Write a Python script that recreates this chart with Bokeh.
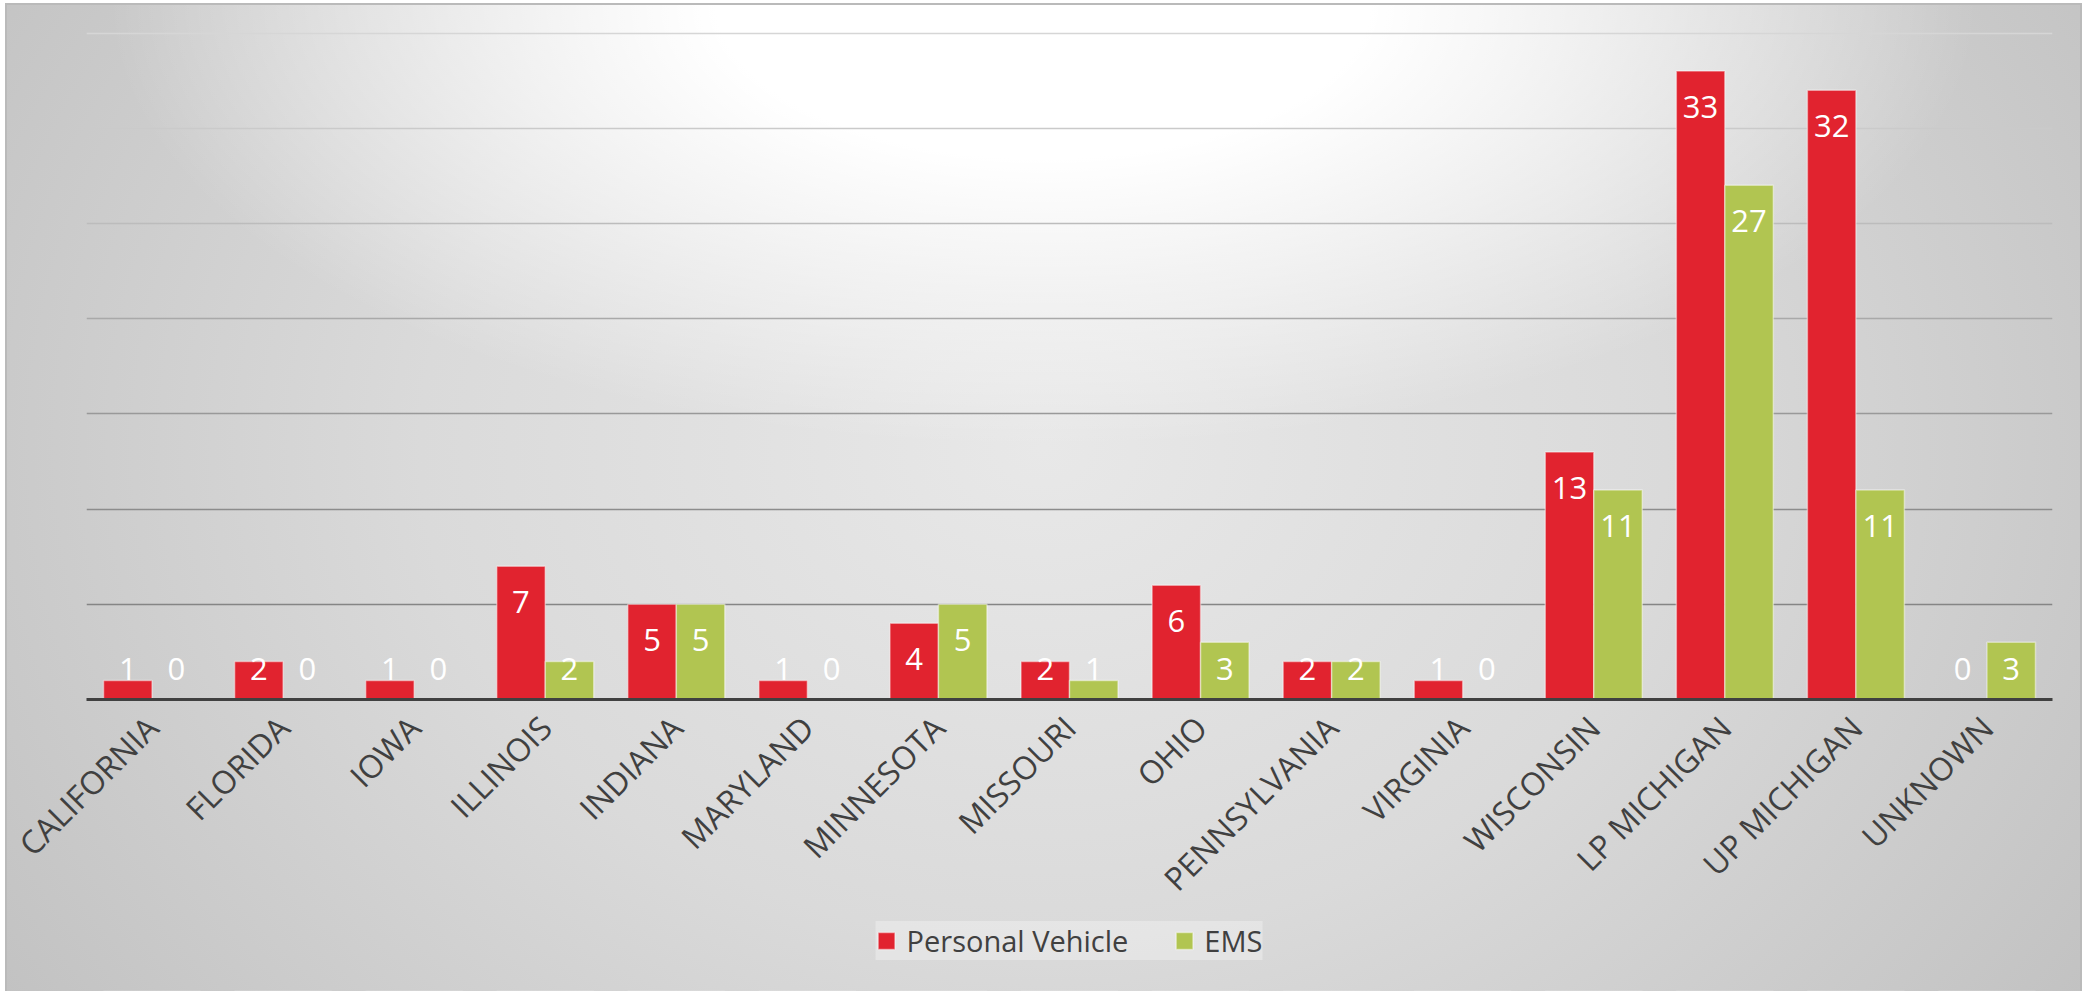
import math
from bokeh.plotting import figure
from bokeh.layouts import column
from bokeh.models import (ColumnDataSource, FactorRange, Range1d, LabelSet, Legend,
                          LegendItem, Grid, FixedTicker)
from bokeh.core.properties import value
from bokeh.transform import dodge
from bokeh.embed import file_html
from bokeh.resources import INLINE

categories = ["CALIFORNIA", "FLORIDA", "IOWA", "ILLINOIS", "INDIANA", "MARYLAND",
              "MINNESOTA", "MISSOURI", "OHIO", "PENNSYLVANIA", "VIRGINIA",
              "WISCONSIN", "LP MICHIGAN", "UP MICHIGAN", "UNKNOWN"]
personal_vehicle = [1, 2, 1, 7, 5, 1, 4, 2, 6, 2, 1, 13, 33, 32, 0]
ems = [0, 0, 0, 2, 5, 0, 5, 1, 3, 2, 0, 11, 27, 11, 3]
grid_values = [5, 10, 15, 20, 25, 30, 35]
grid_colors = ["#858585", "#8c8c8c", "#999999", "#a9a9a9", "#bcbcbc", "#cacaca", "#d6d6d6"]

RED = "#E1232F"
GREEN = "#B1C551"
FONT = "Open Sans"

src = ColumnDataSource(dict(
    cat=categories,
    pv=personal_vehicle,
    ems=ems,
    pv_txt=[str(v) for v in personal_vehicle],
    ems_txt=[str(v) for v in ems],
    pv_ly=[max(v, 3.5) for v in personal_vehicle],
    ems_ly=[max(v, 3.5) for v in ems],
))

p = figure(width=2077, height=918, x_range=FactorRange(*categories),
           y_range=Range1d(0, 35.5), output_backend="svg", toolbar_location=None,
           min_border_left=81, min_border_right=30, min_border_top=20,
           min_border_bottom=222)
p.background_fill_alpha = 0
p.border_fill_alpha = 0
p.outline_line_color = None

bar_kw = dict(width=0.37, source=src, line_color="#ffffff", line_alpha=0.45, line_width=1.5)
r1 = p.vbar(x=dodge("cat", -0.185, range=p.x_range), top="pv", fill_color=RED, **bar_kw)
r2 = p.vbar(x=dodge("cat", 0.185, range=p.x_range), top="ems", fill_color=GREEN, **bar_kw)

p.xgrid.visible = False
p.ygrid.visible = False
for gv, gc in zip(grid_values, grid_colors):
    g = Grid(dimension=1, ticker=FixedTicker(ticks=[gv]), grid_line_color=gc,
             grid_line_width=1.5)
    p.add_layout(g)

p.yaxis.visible = False
ax = p.xaxis[0]
ax.axis_line_color = "#404040"
ax.axis_line_width = 3
ax.major_tick_line_color = None
ax.minor_tick_line_color = None
ax.major_label_orientation = math.pi / 4
ax.major_label_text_font = FONT
ax.major_label_text_font_size = "32px"
ax.major_label_text_color = "#404040"
ax.major_label_standoff = 16

for txt, ly, off in (("pv_txt", "pv_ly", -0.185), ("ems_txt", "ems_ly", 0.185)):
    ls = LabelSet(x=dodge("cat", off, range=p.x_range), y=ly, text=txt, source=src,
                  y_offset=-36, text_align="center", text_baseline="middle",
                  text_color="#ffffff", text_font=value(FONT), text_font_size="31px")
    p.add_layout(ls)

# legend strip below the chart (bars there are out of its view)
q = figure(width=2077, height=70, x_range=p.x_range, y_range=Range1d(100, 101),
           output_backend="svg", toolbar_location=None,
           min_border_left=0, min_border_right=0, min_border_top=0, min_border_bottom=0)
q.axis.visible = False
q.grid.visible = False
q.background_fill_alpha = 0
q.border_fill_alpha = 0
q.outline_line_color = None
q1 = q.vbar(x=dodge("cat", -0.185, range=q.x_range), top="pv", fill_color=RED, **bar_kw)
q2 = q.vbar(x=dodge("cat", 0.185, range=q.x_range), top="ems", fill_color=GREEN, **bar_kw)

legend = Legend(items=[LegendItem(label="Personal Vehicle", renderers=[q1]),
                       LegendItem(label="EMS", renderers=[q2])],
                orientation="horizontal", location="top_center")
legend.background_fill_color = "#ffffff"
legend.background_fill_alpha = 0.3
legend.border_line_color = None
legend.label_text_font = FONT
legend.label_text_font_size = "29px"
legend.label_text_color = "#404040"
legend.glyph_width = 21
legend.glyph_height = 21
legend.spacing = 45
legend.padding = 14
legend.label_standoff = 10
legend.margin = 0
q.add_layout(legend, "center")

layout = column(p, q, spacing=0)
layout.styles = {
    "margin-left": "5px",
    "margin-top": "3px",
    "background": ("radial-gradient(ellipse 45% 45% at 50% 0%, rgba(255,255,255,1) 0%, "
                   "rgba(255,255,255,1) 35%, rgba(255,255,255,0) 100%), "
                   "radial-gradient(ellipse 60% 100% at 50% 45%, #e8e8e8 0%, #dadada 50%, #c2c2c2 100%)"),
    "box-shadow": "inset 2px 2px 0 #bababa, inset -2px 0 0 #bababa",
}

open("out.html", "w").write(file_html(layout, INLINE))
